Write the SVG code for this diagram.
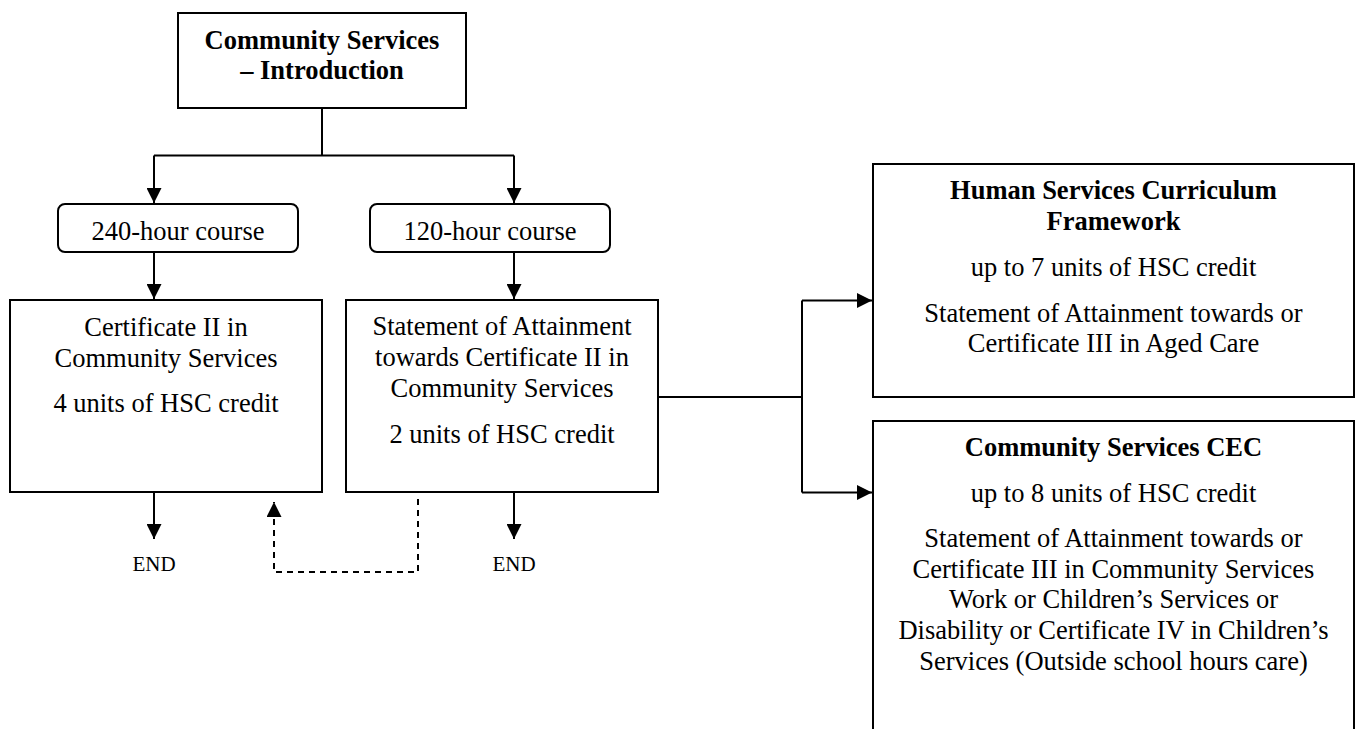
<svg xmlns="http://www.w3.org/2000/svg" width="1357" height="729" viewBox="0 0 1357 729">
<style>
.box{fill:#fff;stroke:#000;stroke-width:2}
.ln{fill:none;stroke:#000;stroke-width:2}
.dash{fill:none;stroke:#000;stroke-width:2;stroke-dasharray:6,5}
text{font-family:"Liberation Serif","Times New Roman",serif;font-size:26.5px;fill:#000;text-anchor:middle}
.b{font-weight:bold}
.end{font-size:21px}
</style>
<defs>
<marker id="ah" viewBox="0 0 15 15" refX="15" refY="7.5" markerWidth="15" markerHeight="15" markerUnits="userSpaceOnUse" orient="auto">
<path d="M0,0 L15,7.5 L0,15 z" fill="#000"/>
</marker>
</defs>
<rect width="1357" height="729" fill="#fff"/>
<g id="connectors">
<path class="ln" d="M322,108 V155.5"/>
<path class="ln" d="M154,155.5 H514"/>
<path class="ln" d="M154,155.5 V203" marker-end="url(#ah)"/>
<path class="ln" d="M514,155.5 V203" marker-end="url(#ah)"/>
<path class="ln" d="M154,252 V299" marker-end="url(#ah)"/>
<path class="ln" d="M514,252 V299" marker-end="url(#ah)"/>
<path class="ln" d="M154,492 V539" marker-end="url(#ah)"/>
<path class="ln" d="M514,492 V539" marker-end="url(#ah)"/>
<path class="dash" d="M418,499 V572 H274 V502" marker-end="url(#ah)"/>
<path class="ln" d="M658,397 H802"/>
<path class="ln" d="M802,300.5 V492.5"/>
<path class="ln" d="M802,300.5 H872" marker-end="url(#ah)"/>
<path class="ln" d="M802,492.5 H872" marker-end="url(#ah)"/>
</g>
<g id="intro">
<rect class="box" x="178" y="13" width="288" height="95"/>
<text class="b" x="322" y="49">Community Services</text>
<text class="b" x="322" y="79">– Introduction</text>
</g>
<g id="c240">
<rect class="box" x="58" y="204" width="240" height="48" rx="7"/>
<text x="178" y="240">240-hour course</text>
</g>
<g id="c120">
<rect class="box" x="370" y="204" width="240" height="48" rx="7"/>
<text x="490" y="240">120-hour course</text>
</g>
<g id="cert2">
<rect class="box" x="10" y="300" width="312" height="192"/>
<text x="166" y="336">Certificate II in</text>
<text x="166" y="367">Community Services</text>
<text x="166" y="412">4 units of HSC credit</text>
</g>
<g id="soa2">
<rect class="box" x="346" y="300" width="312" height="192"/>
<text x="502" y="335">Statement of Attainment</text>
<text x="502" y="366">towards Certificate II in</text>
<text x="502" y="397">Community Services</text>
<text x="502" y="443">2 units of HSC credit</text>
</g>
<g id="end1"><text class="end" x="154" y="571">END</text></g>
<g id="end2"><text class="end" x="514" y="571">END</text></g>
<g id="hscf">
<rect class="box" x="873" y="164" width="481" height="233"/>
<text class="b" x="1113.5" y="199">Human Services Curriculum</text>
<text class="b" x="1113.5" y="230">Framework</text>
<text x="1113.5" y="276">up to 7 units of HSC credit</text>
<text x="1113.5" y="322">Statement of Attainment towards or</text>
<text x="1113.5" y="352">Certificate III in Aged Care</text>
</g>
<g id="cec">
<rect class="box" x="873" y="421" width="481" height="340"/>
<text class="b" x="1113.5" y="456">Community Services CEC</text>
<text x="1113.5" y="502">up to 8 units of HSC credit</text>
<text x="1113.5" y="547">Statement of Attainment towards or</text>
<text x="1113.5" y="578">Certificate III in Community Services</text>
<text x="1113.5" y="608">Work or Children’s Services or</text>
<text x="1113.5" y="639">Disability or Certificate IV in Children’s</text>
<text x="1113.5" y="670">Services (Outside school hours care)</text>
</g>
</svg>
